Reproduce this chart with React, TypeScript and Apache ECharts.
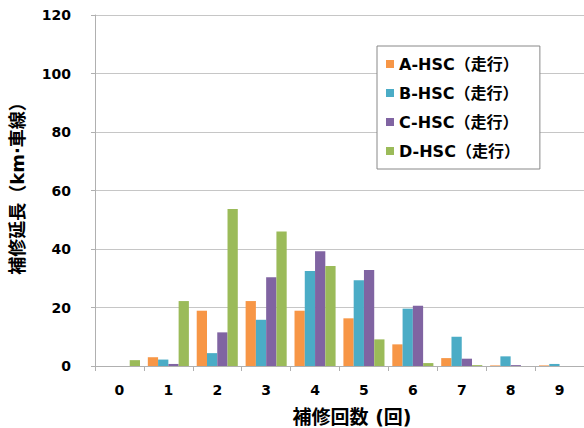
import React, { useEffect, useRef } from "react";
import * as echarts from "echarts";

// 補修回数 (times repaired) categories
const categories = ["0", "1", "2", "3", "4", "5", "6", "7", "8", "9"];

// 補修延長 (km·車線) for each HSC type
const seriesA = [0, 3.0, 18.9, 22.2, 18.9, 16.3, 7.4, 2.7, 0.2, 0.2];
const seriesB = [0, 2.2, 4.4, 15.8, 32.5, 29.3, 19.6, 10.0, 3.3, 0.7];
const seriesC = [0, 0.7, 11.5, 30.3, 39.2, 32.8, 20.6, 2.5, 0.3, 0];
const seriesD = [2.0, 22.2, 53.7, 46.0, 34.2, 9.1, 1.0, 0.3, 0, 0];

const seriesNames = ["A-HSC（走行）", "B-HSC（走行）", "C-HSC（走行）", "D-HSC（走行）"];
const seriesColors = ["#F79646", "#4BACC6", "#8064A2", "#9BBB59"];

const yTicks = { min: 0, max: 120, interval: 20 };

const FONT = "'DejaVu Sans', 'Noto Sans CJK JP', sans-serif";

export default function App() {
  const ref = useRef<HTMLDivElement>(null);

  useEffect(() => {
    if (!ref.current) return;
    const chart = echarts.init(ref.current, null, { renderer: "svg" });
    const values = [seriesA, seriesB, seriesC, seriesD];

    chart.setOption({
      animation: false,
      backgroundColor: "#ffffff",
      textStyle: { fontFamily: FONT },
      grid: { left: 95, top: 15, width: 493, height: 351, containLabel: false },
      legend: {
        orient: "vertical",
        left: 377,
        top: 46,
        icon: "rect",
        itemWidth: 8,
        itemHeight: 8,
        itemGap: 13,
        padding: [10, 20, 10, 9],
        borderColor: "#888888",
        borderWidth: 1,
        backgroundColor: "#ffffff",
        textStyle: { fontFamily: FONT, fontWeight: "bold", fontSize: 16, color: "#000" },
        data: seriesNames,
      },
      xAxis: {
        type: "category",
        data: categories,
        axisLine: { lineStyle: { color: "#b0b0b0", width: 1 } },
        axisTick: { show: true, length: 5, lineStyle: { color: "#b0b0b0" } },
        axisLabel: { margin: 17, fontSize: 14, fontWeight: "bold", color: "#000", fontFamily: FONT },
      },
      yAxis: {
        type: "value",
        min: yTicks.min,
        max: yTicks.max,
        interval: yTicks.interval,
        axisLine: { show: true, lineStyle: { color: "#b0b0b0", width: 1 } },
        axisTick: { show: true, length: 4, lineStyle: { color: "#b0b0b0" } },
        splitLine: { lineStyle: { color: "#c6c6c6", width: 1.2 } },
        axisLabel: { margin: 24, fontSize: 14, fontWeight: "bold", color: "#000", fontFamily: FONT },
      },
      series: values.map((d, i) => ({
        name: seriesNames[i],
        type: "bar",
        data: d,
        barGap: "0%",
        barCategoryGap: "16%",
        itemStyle: { color: seriesColors[i] },
      })),
      graphic: [
        {
          type: "text",
          x: 352,
          y: 417,
          style: {
            text: "補修回数 (回)",
            font: `bold 19px ${FONT}`,
            fill: "#000",
            textAlign: "center",
            textVerticalAlign: "middle",
          },
        },
        {
          type: "text",
          x: 17,
          y: 184,
          rotation: Math.PI / 2,
          style: {
            text: "補修延長（km·車線）",
            font: `bold 18px ${FONT}`,
            fill: "#000",
            textAlign: "center",
            textVerticalAlign: "middle",
          },
        },
      ],
    });

    return () => chart.dispose();
  }, []);

  return (
    <div
      ref={ref}
      style={{ position: "fixed", left: 0, top: 0, width: 584, height: 428 }}
    />
  );
}
